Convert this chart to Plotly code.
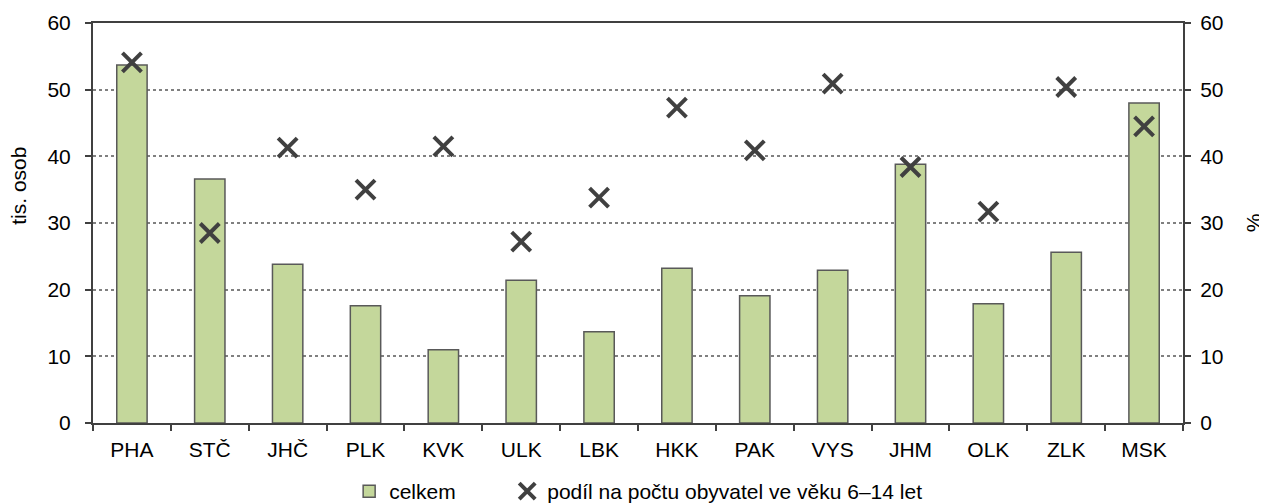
import plotly.graph_objects as go

# kraje
kraje = ["PHA", "STČ", "JHČ", "PLK", "KVK", "ULK", "LBK",
         "HKK", "PAK", "VYS", "JHM", "OLK", "ZLK", "MSK"]

# celkem (tis. osob)
celkem = [53.7, 36.6, 23.8, 17.6, 11.0, 21.4, 13.7,
          23.2, 19.1, 22.9, 38.8, 17.9, 25.6, 48.0]

# podil na poctu obyvatel ve veku 6-14 let (%)
podil = [54.1, 28.5, 41.3, 35.0, 41.5, 27.2, 33.8,
         47.3, 40.9, 50.9, 38.4, 31.7, 50.4, 44.5]

y_ticks = [0, 10, 20, 30, 40, 50, 60]

dark = "#404040"
font = "Liberation Sans, Arial, sans-serif"

fig = go.Figure()

fig.add_trace(go.Bar(
    x=kraje, y=celkem, name="celkem",
    marker=dict(color="#c4d79b", line=dict(color="#595959", width=1.5)),
    width=0.39, legend="legend",
))

fig.add_trace(go.Scatter(
    x=kraje, y=podil, name="podíl na počtu obyvatel ve věku 6–14 let",
    mode="markers", yaxis="y2", legend="legend2",
    marker=dict(symbol="x-thin", size=19, line=dict(color=dark, width=4)),
))

leg = dict(orientation="h", xanchor="left", yref="container", y=0.0,
           yanchor="bottom", font=dict(size=21), itemwidth=30)

# page body has an 8px margin, so margins are shifted by that
fig.update_layout(
    width=1267, height=504,
    margin=dict(l=85, r=92, t=15, b=89, autoexpand=False),
    paper_bgcolor="white", plot_bgcolor="white",
    font=dict(family=font, size=21, color="black"),
    showlegend=True,
    legend=dict(leg, x=0.235),
    legend2=dict(leg, x=0.38),
    xaxis=dict(
        range=[-0.5, 13.5],
        showline=True, linecolor=dark, linewidth=2, mirror=True,
        ticks="outside", tickson="boundaries", ticklen=6, tickcolor=dark, tickwidth=2,
        showgrid=False, tickfont=dict(size=21), ticklabelstandoff=7,
    ),
    yaxis=dict(
        range=[0, 60], tickvals=y_ticks, showline=True, linecolor=dark, linewidth=2,
        ticks="outside", ticklen=6, tickcolor=dark, tickwidth=2,
        showgrid=True, gridcolor="#808080", griddash="dot", gridwidth=1.5,
        zeroline=False, tickfont=dict(size=21), ticklabelstandoff=10,
    ),
    yaxis2=dict(
        range=[0, 60], tickvals=y_ticks, overlaying="y", side="right",
        showline=True, linecolor=dark, linewidth=2,
        ticks="outside", ticklen=6, tickcolor=dark, tickwidth=2,
        showgrid=False, zeroline=False, tickfont=dict(size=21), ticklabelstandoff=5,
        title=dict(text="%", standoff=24, font=dict(size=21)),
    ),
    annotations=[dict(
        text="tis. osob", textangle=-90, showarrow=False,
        xref="paper", yref="paper", x=-0.069, y=0.5925,
        xanchor="center", yanchor="middle", font=dict(size=21),
    )],
)

fig.write_html("out.html")
